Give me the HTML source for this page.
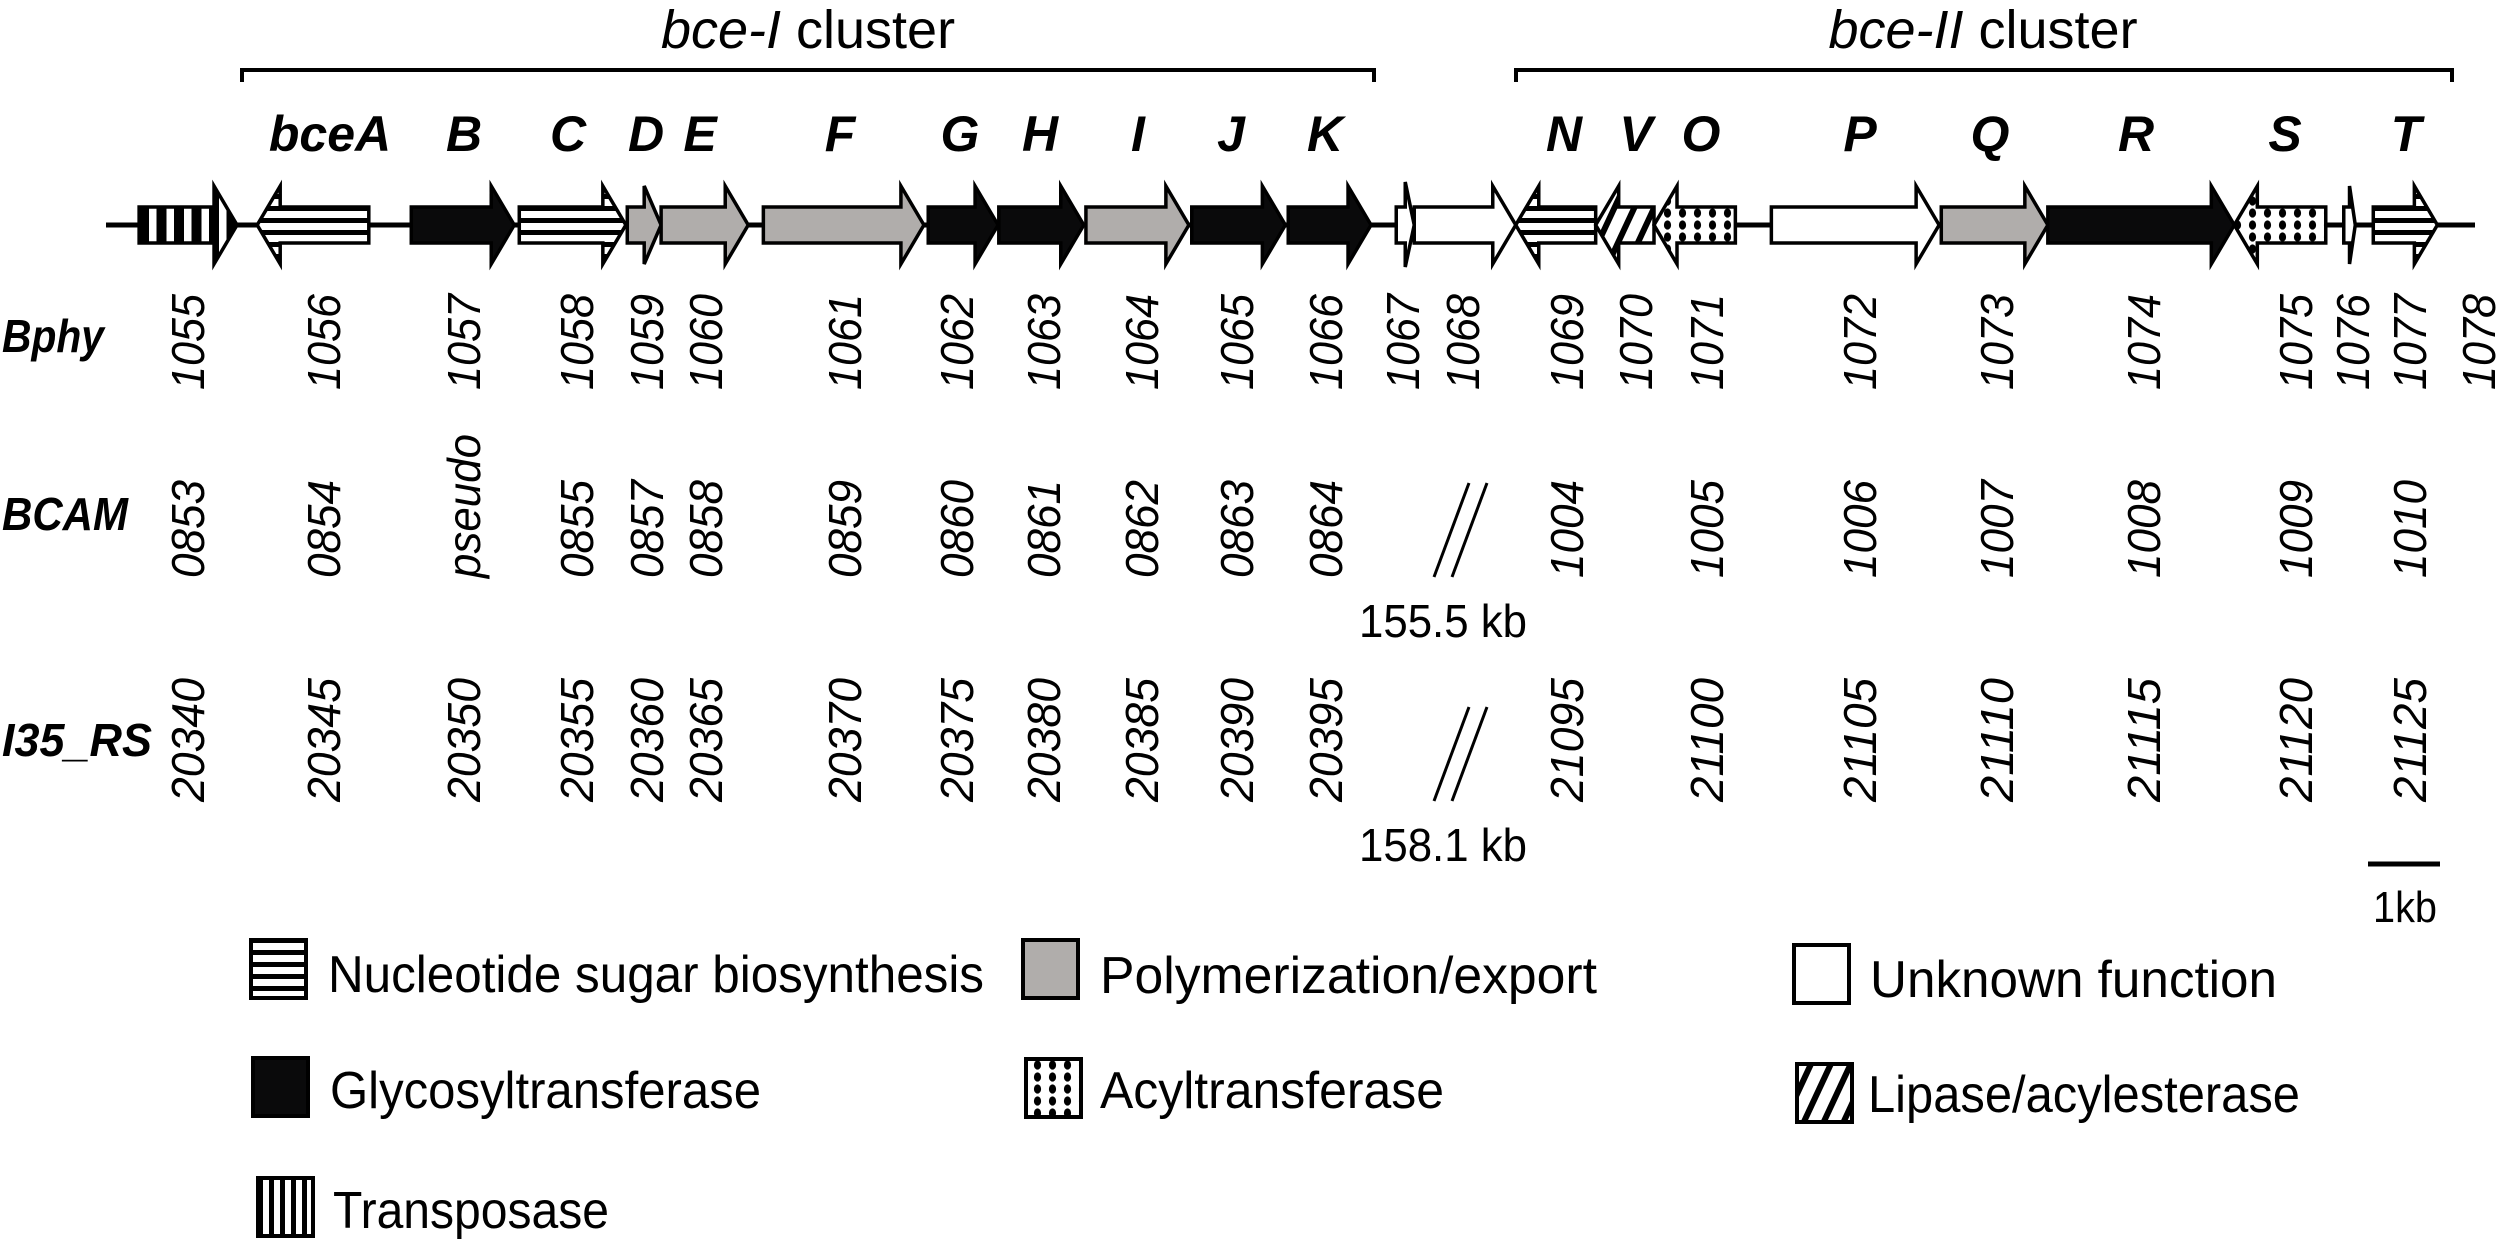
<!DOCTYPE html>
<html><head><meta charset="utf-8"><style>
html,body{margin:0;padding:0;background:#fff;}
svg{display:block;}
text{font-family:"Liberation Sans",sans-serif;fill:#000;}
</style></head><body>
<svg id="fig" xmlns="http://www.w3.org/2000/svg" width="2500" height="1242" viewBox="0 0 2500 1242">
<defs>
<pattern id="pNuc" patternUnits="userSpaceOnUse" width="20" height="12" y="206"><rect width="20" height="12" fill="#fff"/><rect y="0" width="20" height="5" fill="#000"/></pattern>
<pattern id="pTrans" patternUnits="userSpaceOnUse" width="17.5" height="20" x="139"><rect width="17.5" height="20" fill="#000"/><rect x="10" width="7.5" height="20" fill="#fff"/></pattern>
<pattern id="pAcyl" patternUnits="userSpaceOnUse" width="15" height="12" x="1660" y="207"><rect width="15" height="12" fill="#fff"/><ellipse cx="7.5" cy="6" rx="3.6" ry="4.6" fill="#000"/></pattern>
<pattern id="pLip" patternUnits="userSpaceOnUse" width="18" height="18" patternTransform="rotate(25)"><rect width="18" height="18" fill="#fff"/><rect width="6" height="18" fill="#000"/></pattern>
<pattern id="pTransL" patternUnits="userSpaceOnUse" width="11" height="20" x="258"><rect width="11" height="20" fill="#fff"/><rect width="5" height="20" fill="#000"/></pattern>
</defs>
<g id="titles"></g>
<line x1="106" y1="225" x2="2475" y2="225" stroke="#000" stroke-width="5"/>
<g id="genes"></g>
<g id="labels"></g>
<g stroke="#000" stroke-width="3">
<line x1="1434" y1="577" x2="1469" y2="483"/><line x1="1452" y1="577" x2="1487" y2="483"/></g>
<g stroke="#000" stroke-width="3">
<line x1="1434" y1="801" x2="1469" y2="707"/><line x1="1452" y1="801" x2="1487" y2="707"/></g>
<text x="1527" y="637" font-size="46" text-anchor="end" textLength="168" lengthAdjust="spacingAndGlyphs">155.5 kb</text>
<text x="1527" y="861" font-size="46" text-anchor="end" textLength="168" lengthAdjust="spacingAndGlyphs">158.1 kb</text>
<line x1="2368" y1="864" x2="2440" y2="864" stroke="#000" stroke-width="5"/>
<text x="2405" y="922" font-size="44" text-anchor="middle" textLength="64" lengthAdjust="spacingAndGlyphs">1kb</text>
<g id="legend"></g>
</svg>
<script>
const NS="http://www.w3.org/2000/svg";
const geneIds=["1055","1056","1057","1058","1059","1060","1061","1062","1063","1064","1065","1066","1067","1068","1069","1070","1071","1072","1073","1074","1075","1076","1077"];
const geneStart=[0.46,2.10,4.24,5.74,7.24,7.71,9.13,11.42,12.40,13.61,15.08,16.42,17.92,18.17,19.58,20.69,21.50,23.13,25.49,26.97,29.56,31.08,31.49];
const geneEnd=[1.82,3.65,5.67,7.22,7.71,8.92,11.36,12.39,13.58,15.04,16.38,17.57,18.17,19.58,20.69,21.50,22.63,25.46,26.97,29.56,30.83,31.24,32.38];
const geneDir=[1,-1,1,1,1,1,1,1,1,1,1,1,1,1,-1,-1,-1,1,1,1,-1,1,1];
const geneType=["trans","nuc","gly","nuc","poly","poly","poly","gly","gly","poly","gly","gly","unk","unk","nuc","lip","acyl","unk","poly","gly","acyl","unk","nuc"];
const geneLetter=["","bceA","B","C","D","E","F","G","H","I","J","K","","","N","V","O","P","Q","R","S","","T"];
const bphyLabels=["1055","1056","1057","1058","1059","1060","1061","1062","1063","1064","1065","1066","1067","1068","1069","1070","1071","1072","1073","1074","1075","1076","1077","1078"];
const bcamLabels=["0853","0854","pseudo","0855","0857","0858","0859","0860","0861","0862","0863","0864","1004","1005","1006","1007","1008","1009","1010"];
const i35Labels=["20340","20345","20350","20355","20360","20365","20370","20375","20380","20385","20390","20395","21095","21100","21105","21110","21115","21120","21125"];
const rowCols=[0,1,2,3,4,5,6,7,8,9,10,11,14,16,17,18,19,20,22];
const fills={nuc:"url(#pNuc)",poly:"#b0adab",unk:"#fff",gly:"#0a0a0b",acyl:"url(#pAcyl)",lip:"url(#pLip)",trans:"url(#pTrans)"};
const X=kb=>106+kb*72;
const gG=document.getElementById("genes"), gL=document.getElementById("labels");
geneIds.forEach((id,i)=>{
  const s=X(geneStart[i]), e=X(geneEnd[i]), len=e-s;
  const head=Math.min(23,len*0.5);
  let hT=186,hB=264;
  if(id==="1067"){hT=182;hB=267;}
  const bT=207,bB=243,m=225;
  let pts;
  if(geneDir[i]>0){const hb=e-head;pts=[[s,bT],[hb,bT],[hb,hT],[e,m],[hb,hB],[hb,bB],[s,bB]];}
  else{const hb=s+head;pts=[[e,bT],[hb,bT],[hb,hT],[s,m],[hb,hB],[hb,bB],[e,bB]];}
  const p=document.createElementNS(NS,"polygon");
  p.setAttribute("points",pts.map(q=>q.join(",")).join(" "));
  p.setAttribute("fill",fills[geneType[i]]);
  p.setAttribute("stroke","#000");p.setAttribute("stroke-width","3.5");
  
  
  gG.appendChild(p);
});
const letterX=[0,330,464,568,646,700,840,960,1040,1138,1231,1325,0,0,1564,1636,1701,1860,1990,2136,2285,0,2406];
geneLetter.forEach((L,i)=>{
  if(!L)return;
  const t=document.createElementNS(NS,"text");
  t.setAttribute("x",letterX[i]);t.setAttribute("y",151);
  t.setAttribute("font-size","50");t.setAttribute("font-weight","bold");t.setAttribute("font-style","italic");
  t.setAttribute("text-anchor","middle");
  t.textContent=L;
  
  
  gG.appendChild(t);
});
const colX=[188,324,464,577,647,706,845,957,1044,1142,1237,1326,1403,1463,1567,1636,1707,1860,1997,2144,2296,2353,2410,2479];
function rot(txt,cx,y0,len,name){
  const t=document.createElementNS(NS,"text");
  t.setAttribute("transform","translate("+(cx+16)+","+y0+") rotate(-90)");
  t.setAttribute("font-size","46");t.setAttribute("font-style","italic");
  t.setAttribute("textLength",len);t.setAttribute("lengthAdjust","spacingAndGlyphs");
  t.textContent=txt;
  
  
  gL.appendChild(t);
}
bphyLabels.forEach((l,i)=>rot(l,colX[i],390,96,'bphy-locus-'+l));
bcamLabels.forEach((l,i)=>rot(l,colX[rowCols[i]],578,l==="pseudo"?144:98,'bcam-locus-'+l));
i35Labels.forEach((l,i)=>rot(l,colX[rowCols[i]],802,124,'i35-locus-'+l));
[["Bphy",352,"row-label-bphy",102],["BCAM",530,"row-label-bcam",126],["I35_RS",756,"row-label-i35rs",150]].forEach(r=>{
  const t=document.createElementNS(NS,"text");
  t.setAttribute("x",2);t.setAttribute("y",r[1]);t.setAttribute("font-size","46");
  t.setAttribute("font-weight","bold");t.setAttribute("font-style","italic");
  t.setAttribute("textLength",r[3]);t.setAttribute("lengthAdjust","spacingAndGlyphs");
  t.textContent=r[0];
  
  
  gL.appendChild(t);
});
const gT=document.getElementById("titles");
[[242,1374,"bce-I",808,"bce-i-cluster"],[1516,2452,"bce-II",1983,"bce-ii-cluster"]].forEach(b=>{
  const p=document.createElementNS(NS,"path");
  p.setAttribute("d","M"+b[0]+",82 V70 H"+b[1]+" V82");
  p.setAttribute("fill","none");p.setAttribute("stroke","#000");p.setAttribute("stroke-width","4");
  
  
  gT.appendChild(p);
  const t=document.createElementNS(NS,"text");
  t.setAttribute("x",b[3]);t.setAttribute("y",48);t.setAttribute("font-size","54");
  t.setAttribute("text-anchor","middle");
  t.innerHTML='<tspan font-style="italic">'+b[2]+'</tspan> cluster';
  
  
  gT.appendChild(t);
});
const legText=["Nucleotide sugar biosynthesis","Polymerization/export","Unknown function","Glycosyltransferase","Acyltransferase","Lipase/acylesterase","Transposase"];
const legType=["nuc","poly","unk","gly","acyl","lip","trans"];
const legBox=[[251,940],[1023,940],[1794,945],[253,1058],[1026,1059],[1797,1064],[258,1178]];
const legTx=[[328,992,656],[1100,993,497],[1870,997,407],[330,1108,431],[1100,1108,344],[1868,1112,432],[333,1228,276]];
const gLeg=document.getElementById("legend");
legText.forEach((s,i)=>{
  const r=document.createElementNS(NS,"rect");
  r.setAttribute("x",legBox[i][0]);r.setAttribute("y",legBox[i][1]);r.setAttribute("width",55);r.setAttribute("height",58);
  let f=fills[legType[i]];
  if(legType[i]==="trans"){f="url(#pTransL)";}
  r.setAttribute("fill",f);r.setAttribute("stroke","#000");r.setAttribute("stroke-width","4");
  
  
  gLeg.appendChild(r);
  const t=document.createElementNS(NS,"text");
  t.setAttribute("x",legTx[i][0]);t.setAttribute("y",legTx[i][1]);t.setAttribute("font-size","52");
  t.setAttribute("textLength",legTx[i][2]);t.setAttribute("lengthAdjust","spacingAndGlyphs");
  t.textContent=s;
  
  
  gLeg.appendChild(t);
});
</script>
</body></html>
